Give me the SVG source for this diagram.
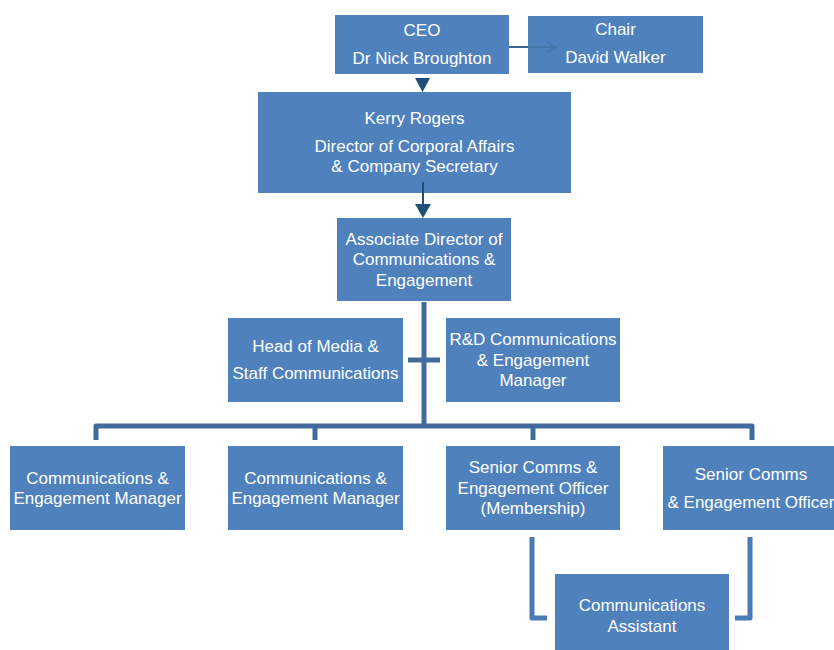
<svg xmlns="http://www.w3.org/2000/svg" width="834" height="650" viewBox="0 0 834 650">
<defs>
<style>
.box{fill:#4f81bd;}
.t{font-family:"Liberation Sans",Arial,sans-serif;font-size:17px;fill:#ffffff;text-anchor:middle;}
.trunk{stroke:#41699a;stroke-width:5;fill:none;stroke-linejoin:round;}
.brk{stroke:#4a7bb7;stroke-width:5;fill:none;stroke-linejoin:round;}
.arr{stroke:#1f4e79;stroke-width:2;fill:none;}
</style>
</defs>
<rect width="834" height="650" fill="#ffffff"/>

<g id="connectors">
<path d="M509,47 L530,47" stroke="#3a6595" stroke-width="2" fill="none"/>
<polygon points="415,78 430,78 422.5,92" fill="#1f4e79"/>
<line x1="423" y1="182" x2="423" y2="205" class="arr"/>
<polygon points="415,204 431,204 423,218" fill="#1f4e79"/>
<path class="trunk" d="M424,302 L424,427"/>
<path class="trunk" d="M408,360 L440,360"/>
<path class="trunk" d="M96,440 L96,426 L752,426 L752,440"/>
<path class="trunk" d="M315,426 L315,440"/>
<path class="trunk" d="M533,426 L533,440"/>
<path class="brk" d="M532,537 L532,618 L547,618"/>
<path class="brk" d="M750,537 L750,618 L735,618"/>
</g>

<g id="ceo"><rect class="box" x="335" y="15" width="174" height="59"/>
<text class="t" x="422" y="36">CEO</text><text class="t" x="422" y="64">Dr Nick Broughton</text></g>

<g id="chair"><rect class="box" x="528" y="16" width="175" height="57"/>
<text class="t" x="615.5" y="35">Chair</text><text class="t" x="615.5" y="63">David Walker</text></g>
<path d="M528,47 L556,47" stroke="#3a6595" stroke-width="2" fill="none" opacity="0.45"/>
<path d="M547,42 L556,47 L547,52" stroke="#3a6595" stroke-width="1.5" fill="none" opacity="0.3"/>

<g id="kerry"><rect class="box" x="258" y="92" width="313" height="101"/>
<text class="t" x="414.5" y="124">Kerry Rogers</text>
<text class="t" x="414.5" y="152">Director of Corporal Affairs</text>
<text class="t" x="414.5" y="172">&amp; Company Secretary</text></g>
<line x1="423" y1="182" x2="423" y2="193" class="arr"/>

<g id="associate"><rect class="box" x="337" y="218" width="174" height="83"/>
<text class="t" x="424" y="245">Associate Director of</text>
<text class="t" x="424" y="265">Communications &amp;</text>
<text class="t" x="424" y="286">Engagement</text></g>

<g id="head-media"><rect class="box" x="228" y="318" width="175" height="84"/>
<text class="t" x="315.5" y="352">Head of Media &amp;</text>
<text class="t" x="315.5" y="379">Staff Communications</text></g>

<g id="rd-manager"><rect class="box" x="446" y="318" width="174" height="84"/>
<text class="t" x="533" y="345">R&amp;D Communications</text>
<text class="t" x="533" y="366">&amp; Engagement</text>
<text class="t" x="533" y="386">Manager</text></g>

<g id="cem1"><rect class="box" x="10" y="446" width="175" height="84"/>
<text class="t" x="97.5" y="484">Communications &amp;</text>
<text class="t" x="97.5" y="504">Engagement Manager</text></g>

<g id="cem2"><rect class="box" x="228" y="446" width="175" height="84"/>
<text class="t" x="315.5" y="484">Communications &amp;</text>
<text class="t" x="315.5" y="504">Engagement Manager</text></g>

<g id="senior-membership"><rect class="box" x="446" y="446" width="174" height="84"/>
<text class="t" x="533" y="473">Senior Comms &amp;</text>
<text class="t" x="533" y="494">Engagement Officer</text>
<text class="t" x="533" y="514">(Membership)</text></g>

<g id="senior-officer"><rect class="box" x="663" y="446" width="175" height="84"/>
<text class="t" x="751" y="480">Senior Comms</text>
<text class="t" x="751" y="508">&amp; Engagement Officer</text></g>

<g id="comms-assistant"><rect class="box" x="555" y="574" width="174" height="80"/>
<text class="t" x="642" y="611">Communications</text>
<text class="t" x="642" y="632">Assistant</text></g>
</svg>
